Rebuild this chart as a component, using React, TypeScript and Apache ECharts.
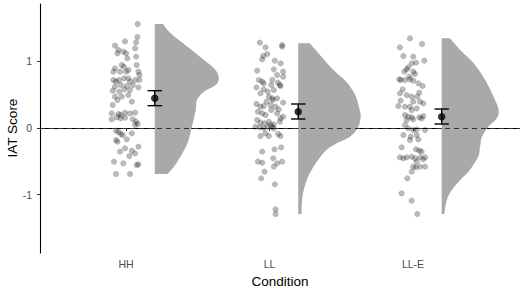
import React, { useEffect, useRef } from "react";
import * as echarts from "echarts";

// ---------- data ----------
const categories = ["HH", "LL", "LL-E"];
const yTickValues = [-1, 0, 1];
const xTitle = "Condition";
const yTitle = "IAT Score";

// IAT scores (y) and horizontal jitter (fraction of category spacing)
const hhScores = [1.56, 1.365, 1.235, 1.3, 1.285, 1.17, 1.12, 1.145, 1.12, 1.195, 1.045, 1.07, 0.895, 0.945, 0.92, 0.87, 0.945, 0.845, 0.795, 0.845, 0.845, 0.845, 0.72, 0.695, 0.72, 0.745, 0.745, 0.695, 0.72, 0.72, 0.62, 0.645, 0.63, 0.645, 0.61, 0.56, 0.545, 0.58, 0.57, 0.47, 0.42, 0.47, 0.495, 0.345, 0.395, 0.22, 0.21, 0.195, 0.23, 0.22, 0.23, 0.13, 0.16, 0.145, 0.155, 0.13, 0.095, 0.06, 0.045, -0.04, -0.06, -0.09, -0.105, -0.08, -0.18, -0.205, -0.17, -0.355, -0.305, -0.34, -0.28, -0.42, -0.38, -0.505, -0.53, -0.555, -0.545, -0.69, -0.69];
const hhJitter = [0.081, 0.079, -0.077, -0.007, 0.07, -0.053, -0.06, -0.019, 0, 0.063, 0.009, 0.07, -0.077, -0.03, -0.014, 0.016, 0.074, 0.086, 0.093, -0.088, -0.042, 0, -0.088, -0.07, -0.049, -0.014, 0.016, 0.028, 0.063, 0.093, -0.077, -0.037, 0.005, 0.047, 0.086, -0.093, -0.047, -0.012, 0.028, -0.077, -0.06, -0.03, 0.016, -0.093, 0.04, -0.1, -0.053, -0.037, -0.007, 0.028, 0.063, -0.1, -0.065, -0.037, -0.007, 0.047, 0.07, 0.081, 0.063, -0.07, -0.053, -0.037, -0.023, 0.04, -0.07, -0.06, 0.005, -0.042, -0.007, 0.04, 0.086, 0.023, 0.063, -0.084, -0.019, 0.074, 0.086, -0.07, 0.028];

const llScores = [1.28, 1.21, 1.245, 1.22, 1.08, 1.11, 1.03, 1.01, 0.97, 0.86, 0.88, 0.845, 0.77, 0.795, 0.72, 0.695, 0.67, 0.72, 0.68, 0.645, 0.645, 0.61, 0.58, 0.545, 0.57, 0.52, 0.63, 0.47, 0.445, 0.42, 0.395, 0.445, 0.36, 0.32, 0.33, 0.345, 0.32, 0.38, 0.28, 0.245, 0.22, 0.195, 0.27, 0.22, 0.17, 0.145, 0.12, 0.08, 0.07, 0.095, 0.045, 0.055, 0.095, 0.02, 0.01, -0.005, 0.02, 0.02, -0.01, -0.12, -0.08, -0.12, -0.09, -0.12, -0.355, -0.32, -0.29, -0.505, -0.52, -0.455, -0.53, -0.58, -0.505, -0.655, -0.755, -0.845, -1.22, -1.29];
const llJitter = [-0.067, -0.028, 0.088, 0.088, -0.044, -0.016, -0.051, 0.037, 0.077, -0.086, 0.03, 0.095, 0.095, 0.053, -0.074, -0.051, -0.04, 0.019, 0.058, 0.072, 0.012, -0.091, -0.04, -0.012, 0.03, -0.063, 0.077, -0.005, 0.019, 0.023, -0.021, 0.053, -0.091, -0.063, -0.04, 0.007, 0.042, 0.095, 0.065, -0.081, -0.051, -0.028, 0.012, 0.053, 0.095, 0.077, -0.086, -0.063, -0.035, -0.005, 0.007, 0.03, 0.072, -0.098, -0.067, -0.04, -0.012, 0.019, 0.03, -0.063, -0.028, -0.005, 0.06, 0.077, -0.051, 0.035, 0.081, -0.081, -0.051, 0.026, 0.053, 0.03, 0.088, -0.035, -0.058, 0.037, 0.042, 0.042];

const lleScores = [1.345, 1.21, 1.26, 1.08, 1.07, 1.01, 0.97, 0.98, 0.91, 0.88, 0.845, 0.845, 0.81, 0.77, 0.73, 0.72, 0.72, 0.73, 0.71, 0.67, 0.63, 0.58, 0.52, 0.53, 0.495, 0.47, 0.47, 0.41, 0.395, 0.395, 0.37, 0.33, 0.32, 0.32, 0.27, 0.295, 0.195, 0.17, 0.16, 0.16, 0.145, 0.12, 0.13, 0.18, 0.045, -0.005, -0.03, -0.02, -0.03, -0.105, -0.13, -0.105, -0.18, -0.17, -0.29, -0.32, -0.34, -0.355, -0.44, -0.455, -0.44, -0.43, -0.455, -0.44, -0.47, -0.44, -0.505, -0.58, -0.59, -0.58, -0.58, -0.655, -0.755, -0.98, -1.09, -1.29];
const lleJitter = [-0.021, -0.091, 0.063, -0.067, 0.002, 0.079, -0.009, 0.021, -0.033, -0.044, -0.06, 0.002, 0.014, -0.026, -0.095, -0.086, -0.056, -0.021, 0.002, 0.037, 0.067, -0.072, -0.091, 0.044, -0.044, -0.009, 0.03, -0.086, 0.002, 0.049, 0.072, -0.102, -0.056, -0.021, -0.009, 0.026, -0.056, -0.033, -0.009, 0.044, 0.06, -0.044, 0.002, 0.072, -0.056, -0.033, 0.002, 0.026, 0.084, -0.067, -0.016, 0.026, -0.021, 0.037, -0.079, 0.021, 0.044, 0.06, -0.091, -0.067, -0.044, -0.009, 0.014, 0.049, 0.072, 0.084, 0.026, 0.002, 0.021, 0.049, 0.084, -0.009, -0.04, -0.079, -0.009, 0.03];

// means and interval bounds
const means = [0.445, 0.245, 0.17];
const lower = [0.335, 0.135, 0.06];
const upper = [0.56, 0.36, 0.285];

// half-violin density profiles (score level, relative density 0..1)
const hhDensityY = [1.56, 1.42, 1.22, 1.02, 0.87, 0.745, 0.645, 0.545, 0.42, 0.27, 0.02, -0.23, -0.43, -0.58, -0.69];
const hhDensity = [0.13, 0.25, 0.51, 0.77, 0.95, 1.0, 0.95, 0.77, 0.66, 0.64, 0.58, 0.51, 0.4, 0.3, 0.2];
const llDensityY = [1.27, 1.095, 0.87, 0.695, 0.495, 0.27, 0.17, 0.02, -0.13, -0.23, -0.33, -0.48, -0.68, -0.88, -1.08, -1.29];
const llDensity = [0.18, 0.34, 0.55, 0.75, 0.89, 0.96, 0.975, 0.94, 0.81, 0.6, 0.44, 0.31, 0.18, 0.1, 0.06, 0.05];
const lleDensityY = [1.345, 1.17, 0.97, 0.72, 0.47, 0.27, 0.145, 0.02, -0.13, -0.28, -0.43, -0.63, -0.78, -0.93, -1.08, -1.29];
const lleDensity = [0.13, 0.29, 0.5, 0.68, 0.81, 0.89, 0.86, 0.73, 0.63, 0.6, 0.57, 0.44, 0.29, 0.16, 0.08, 0.04];

// ---------- layout constants ----------
const X_MIN = 0.4;
const X_MAX = 3.746;
const Y_MIN = -1.875;
const Y_MAX = 1.86;
const SIDE_OFFSET = 0.2;
const VIOLIN_MAX = 0.446;
const CAP_HALF = 0.05;
const FONT = "'Liberation Sans', Arial, sans-serif";

const groups = [
  { scores: hhScores, jitter: hhJitter, dy: hhDensityY, d: hhDensity },
  { scores: llScores, jitter: llJitter, dy: llDensityY, d: llDensity },
  { scores: lleScores, jitter: lleJitter, dy: lleDensityY, d: lleDensity },
];

function catmullRom(pts: number[][], steps: number): number[][] {
  const out: number[][] = [];
  for (let i = 0; i < pts.length - 1; i++) {
    const p0 = pts[i - 1] || pts[i];
    const p1 = pts[i];
    const p2 = pts[i + 1];
    const p3 = pts[i + 2] || pts[i + 1];
    for (let t = 0; t < steps; t++) {
      const s = t / steps;
      const s2 = s * s;
      const s3 = s2 * s;
      const f = (a: number, b: number, c: number, d: number) =>
        0.5 * (2 * b + (-a + c) * s + (2 * a - 5 * b + 4 * c - d) * s2 + (-a + 3 * b - 3 * c + d) * s3);
      out.push([f(p0[0], p1[0], p2[0], p3[0]), f(p0[1], p1[1], p2[1], p3[1])]);
    }
  }
  out.push(pts[pts.length - 1]);
  return out;
}

export default function App() {
  const ref = useRef<HTMLDivElement>(null);

  useEffect(() => {
    if (!ref.current) return;
    const chart = echarts.init(ref.current, undefined, { renderer: "svg" });

    const pointSeries = groups.map((g, gi) => ({
      type: "scatter",
      symbol: "circle",
      symbolSize: 5.6,
      z: 2,
      itemStyle: {
        color: "rgba(0,0,0,0.34)",
        borderColor: "rgba(0,0,0,0.2)",
        borderWidth: 0.6,
      },
      data: g.scores.map((y, k) => [gi + 1 + g.jitter[k], y]),
    }));

    const option: any = {
      animation: false,
      grid: { left: 40, right: 0, top: 4, bottom: 39, containLabel: false, outerBoundsMode: "none" },
      graphic: [
        {
          type: "text",
          x: 12,
          y: 128,
          rotation: Math.PI / 2,
          silent: true,
          style: {
            text: yTitle,
            fill: "#000",
            fontSize: 13.5,
            fontFamily: FONT,
            align: "center",
            verticalAlign: "middle",
          },
        },
      ],
      xAxis: {
        type: "value",
        min: X_MIN,
        max: X_MAX,
        name: xTitle,
        nameLocation: "middle",
        nameGap: 21,
        nameTextStyle: { color: "#000", fontSize: 13.5, fontFamily: FONT },
        axisLine: { show: true, lineStyle: { color: "#000", width: 1.1 } },
        axisTick: { show: true, length: 3, customValues: [1, 2, 3], lineStyle: { color: "#333", width: 1 } },
        axisLabel: {
          customValues: [1, 2, 3],
          formatter: (v: number) => categories[Math.round(v) - 1] || "",
          color: "#4d4d4d",
          fontSize: 10.5,
          fontFamily: FONT,
          margin: 5,
        },
        splitLine: { show: false },
      },
      yAxis: {
        type: "value",
        min: Y_MIN,
        max: Y_MAX,
        axisLine: { show: true, lineStyle: { color: "#000", width: 1.1 } },
        axisTick: { show: true, length: 3, customValues: yTickValues, lineStyle: { color: "#333", width: 1 } },
        axisLabel: {
          customValues: yTickValues,
          color: "#4d4d4d",
          fontSize: 10.5,
          fontFamily: FONT,
          margin: 8,
        },
        splitLine: { show: false },
      },
      series: [
        ...pointSeries,
        {
          type: "custom",
          coordinateSystem: "cartesian2d",
          z: 3,
          silent: true,
          data: groups.map((_, gi) => [gi + 1, 0]),
          encode: { x: 0, y: 1 },
          renderItem: (params: any, api: any) => {
            const gi = params.dataIndex;
            const g = groups[gi];
            const cx = gi + 1 + SIDE_OFFSET;
            const outline = g.dy.map((y, k) => api.coord([cx + g.d[k] * VIOLIN_MAX, y]));
            const left = api.coord([cx, 0])[0];
            const smooth = catmullRom(outline, 8).map((p) => [Math.max(left, p[0]), p[1]]);
            const top = api.coord([cx, g.dy[0]]);
            const bottom = api.coord([cx, g.dy[g.dy.length - 1]]);
            return {
              type: "polygon",
              shape: { points: [top, ...smooth, bottom] },
              style: { fill: "#a9a9a9", stroke: "none" },
            };
          },
        },
        {
          type: "custom",
          coordinateSystem: "cartesian2d",
          z: 4,
          silent: true,
          data: means.map((_, i) => [i + 1 + SIDE_OFFSET, lower[i], upper[i]]),
          encode: { x: 0, y: [1, 2] },
          renderItem: (params: any, api: any) => {
            const x = api.value(0);
            const lo = api.value(1);
            const hi = api.value(2);
            const pLo = api.coord([x, lo]);
            const pHi = api.coord([x, hi]);
            const cL = api.coord([x - CAP_HALF, lo]);
            const cR = api.coord([x + CAP_HALF, lo]);
            const cL2 = api.coord([x - CAP_HALF, hi]);
            const cR2 = api.coord([x + CAP_HALF, hi]);
            const st = { stroke: "#000", lineWidth: 1.4 };
            return {
              type: "group",
              children: [
                { type: "line", shape: { x1: pLo[0], y1: pLo[1], x2: pHi[0], y2: pHi[1] }, style: st },
                { type: "line", shape: { x1: cL[0], y1: cL[1], x2: cR[0], y2: cR[1] }, style: st },
                { type: "line", shape: { x1: cL2[0], y1: cL2[1], x2: cR2[0], y2: cR2[1] }, style: st },
              ],
            };
          },
        },
        {
          type: "scatter",
          z: 5,
          symbol: "circle",
          symbolSize: 7.5,
          itemStyle: { color: "#000" },
          data: means.map((m, i) => [i + 1 + SIDE_OFFSET, m]),
          markLine: {
            silent: true,
            symbol: "none",
            label: { show: false },
            lineStyle: { color: "#333", width: 1.1, type: [5, 4] },
            data: [{ yAxis: 0 }],
          },
        },
      ],
    };

    chart.setOption(option);
    return () => chart.dispose();
  }, []);

  return (
    <div
      ref={ref}
      style={{ position: "absolute", left: 0, top: 0, width: 520, height: 292, background: "#fff" }}
    />
  );
}
